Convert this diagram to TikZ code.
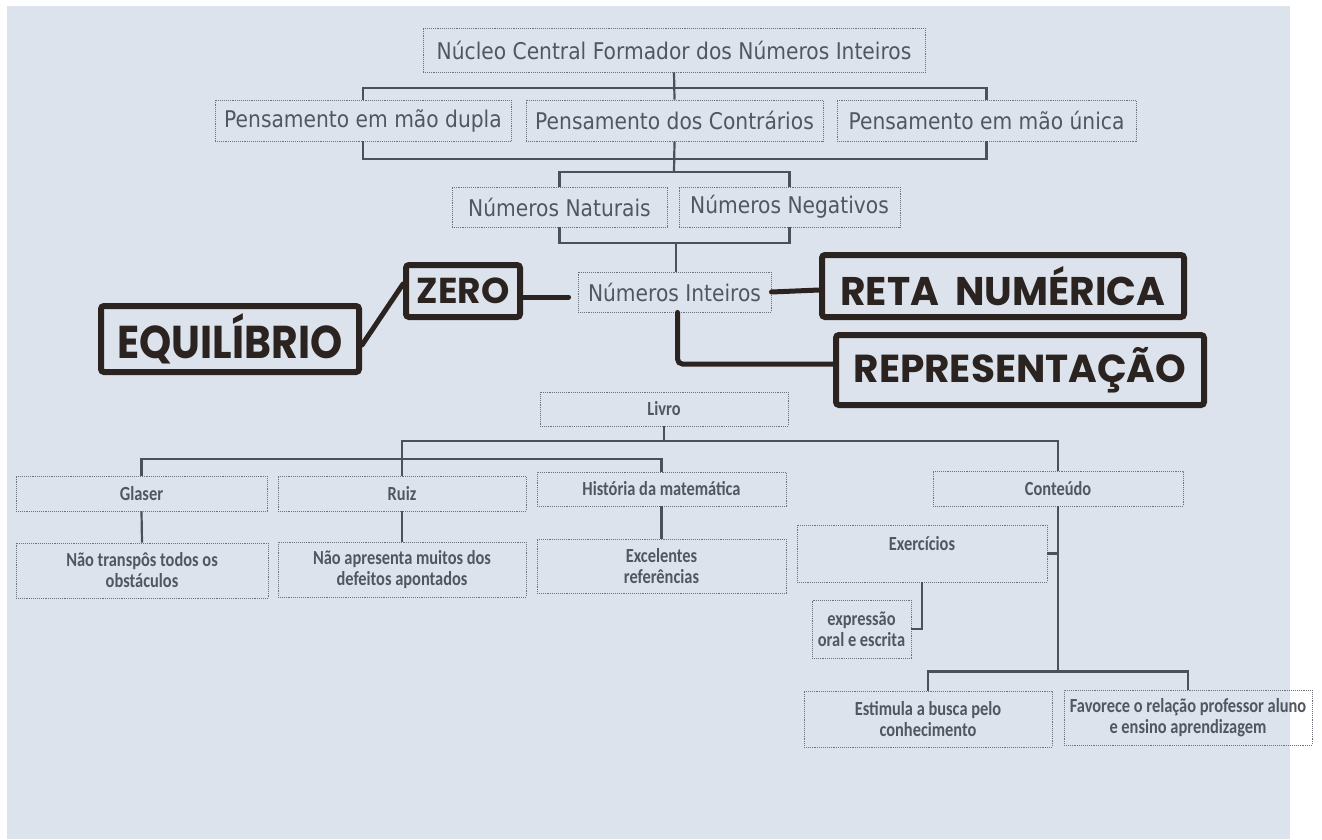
\documentclass[tikz,border=0pt]{standalone}
\usepackage{fontspec}
\usetikzlibrary{calc}
\newfontfamily\topfont[FakeStretch=0.88]{DejaVu Sans}
\newfontfamily\botfont[FakeStretch=0.82]{Carlito}
\newfontfamily\markfont{Poppins}
\definecolor{paper}{HTML}{DCE3ED}
\definecolor{boxgray}{HTML}{6E737B}
\definecolor{txtgray}{HTML}{52575F}
\definecolor{linegray}{HTML}{4C5159}
\definecolor{ink}{HTML}{2A231F}
\begin{document}
\begin{tikzpicture}[x=1pt,y=-1pt,
  box/.style={draw=boxgray, densely dotted, line width=0.9pt, inner sep=0pt, text=txtgray,
    font=\topfont\fontsize{23}{26}\selectfont},
  bbox/.style={draw=boxgray, densely dotted, line width=0.9pt, inner sep=0pt, text=txtgray,
    align=center, font=\botfont\bfseries\fontsize{20}{21}\selectfont},
  mbox/.style={draw=ink, line width=6pt, rounded corners=3pt, inner sep=0pt, text=ink,
    font=\markfont\bfseries},
  conn/.style={draw=linegray, line width=2.2pt},
  mconn/.style={draw=ink, line width=5pt, line cap=round}]

% paper
\fill[paper] (0,0) rectangle (1322,839);
\fill[white] (1290,0) rectangle (1322,839);
\fill[white] (0,0) rectangle (1322,6);
\fill[white] (0,0) rectangle (7,839);

% ---------- upper part ----------
\node[box, minimum width=502, minimum height=44] (top) at (674,50) {Núcleo Central Formador dos Números Inteiros};
\node[box, minimum width=296, minimum height=41] (pd) at (363,120.5) {Pensamento em mão dupla};
\node[box, minimum width=297, minimum height=41] (pc) at (674.5,120.5) {Pensamento dos Contrários};
\node[box, minimum width=299, minimum height=41] (pu) at (986.5,120.5) {Pensamento em mão única};
\node[box, minimum width=215, minimum height=40] (nn) at (559.5,207) {Números Naturais};
\node[box, minimum width=221, minimum height=40] (ng) at (789.5,207) {Números Negativos};
\node[box, minimum width=193, minimum height=40] (ni) at (674.5,292) {Números Inteiros};

\coordinate (b1) at (674,88);
\coordinate (b2) at (674,159);
\coordinate (b3) at (674,172);
\coordinate (b4) at (676,243);

\draw[conn] (top.south) -- (pc.north);
\draw[conn] (pd.north) |- (b1) -| (pu.north);
\draw[conn] (pd.south) |- (b2) -| (pu.south);
\draw[conn] (pc.south) -- (b3);
\draw[conn] (nn.north) |- (b3) -| (ng.north);
\draw[conn] (nn.south) |- (b4) -| (ng.south);
\draw[conn] (b4) -- (b4 |- ni.north);

% ---------- marker part ----------
\node[mbox, minimum width=114, minimum height=52] (zero) at (463,291)
  {\fontsize{36}{36}\selectfont ZERO};
\node[mbox, minimum width=258, minimum height=66] (equi) at (230,339)
  {\scalebox{0.89}[1]{\fontsize{46}{46}\selectfont EQUILÍBRIO}};
\node[mbox, minimum width=362, minimum height=62] (reta) at (1003,286)
  {\scalebox{0.98}[1]{\fontsize{40}{40}\selectfont RETA\hspace{0.2em} NUMÉRICA}};
\node[mbox, minimum width=368, minimum height=70] (rep) at (1020,370)
  {\fontsize{39}{39}\selectfont REPRESENTAÇÃO};

\draw[mconn] ($(equi.east)+(0,6)$) -- ($(zero.west)+(0,-7)$);
\draw[mconn, shorten >=9pt] ($(zero.east)+(0,6)$) -- ($(ni.west)+(0,5)$);
\draw[mconn] (ni.east) -- ($(reta.west)+(0,4)$);
\draw[mconn, rounded corners=5pt] ($(ni.south)+(3,0)$) |- ($(rep.west)+(0,-6)$);

% ---------- lower part ----------
\node[bbox, minimum width=248, minimum height=34] (livro) at (664,409) {Livro};
\node[bbox, minimum width=251, minimum height=35] (glaser) at (141.5,493.5) {Glaser};
\node[bbox, minimum width=248, minimum height=35] (ruiz) at (402,493.5) {Ruiz};
\node[bbox, minimum width=249, minimum height=34] (hist) at (661.5,489) {História da matemática};
\node[bbox, minimum width=250, minimum height=35] (cont) at (1058,488.5) {Conteúdo};

\node[bbox, minimum width=252, minimum height=55] (gl2) at (142,570.5) {Não transpôs todos os\\obstáculos};
\node[bbox, minimum width=248, minimum height=55] (ru2) at (402,569.5) {Não apresenta muitos dos\\defeitos apontados};
\node[bbox, minimum width=249, minimum height=54] (hi2) at (661.5,566) {Excelentes\\referências};

\node[bbox, minimum width=250, minimum height=57] (exer) at (922,553.5) {Exercícios\\\mbox{}};
\node[bbox, minimum width=99, minimum height=58] (expr) at (861.5,629) {expressão\\oral e escrita};
\node[bbox, minimum width=248, minimum height=56] (est) at (928,719) {Estimula a busca pelo\\conhecimento};
\node[bbox, minimum width=248, minimum height=55] (fav) at (1188,717.5) {Favorece o relação professor aluno\\e ensino aprendizagem};

\coordinate (l1) at (664,441);
\coordinate (l2) at (401,459);
\coordinate (cb) at (1058,672);

\draw[conn] (livro.south) -- (l1);
\draw[conn] (ruiz.north) |- (l1) -| (cont.north);
\draw[conn] (glaser.north) |- (l2) -| (hist.north);
\draw[conn] (glaser.south) -- (gl2.north);
\draw[conn] (ruiz.south) -- (ru2.north);
\draw[conn] (hist.south) -- (hi2.north);
\draw[conn] (cont.south) -- (cb);
\draw[conn] (exer.east) -- (exer.east -| cont.south);
\draw[conn] (exer.south) |- (expr.east);
\draw[conn] (est.north) -- ++(0,-19) -| (fav.north);

\end{tikzpicture}
\end{document}
